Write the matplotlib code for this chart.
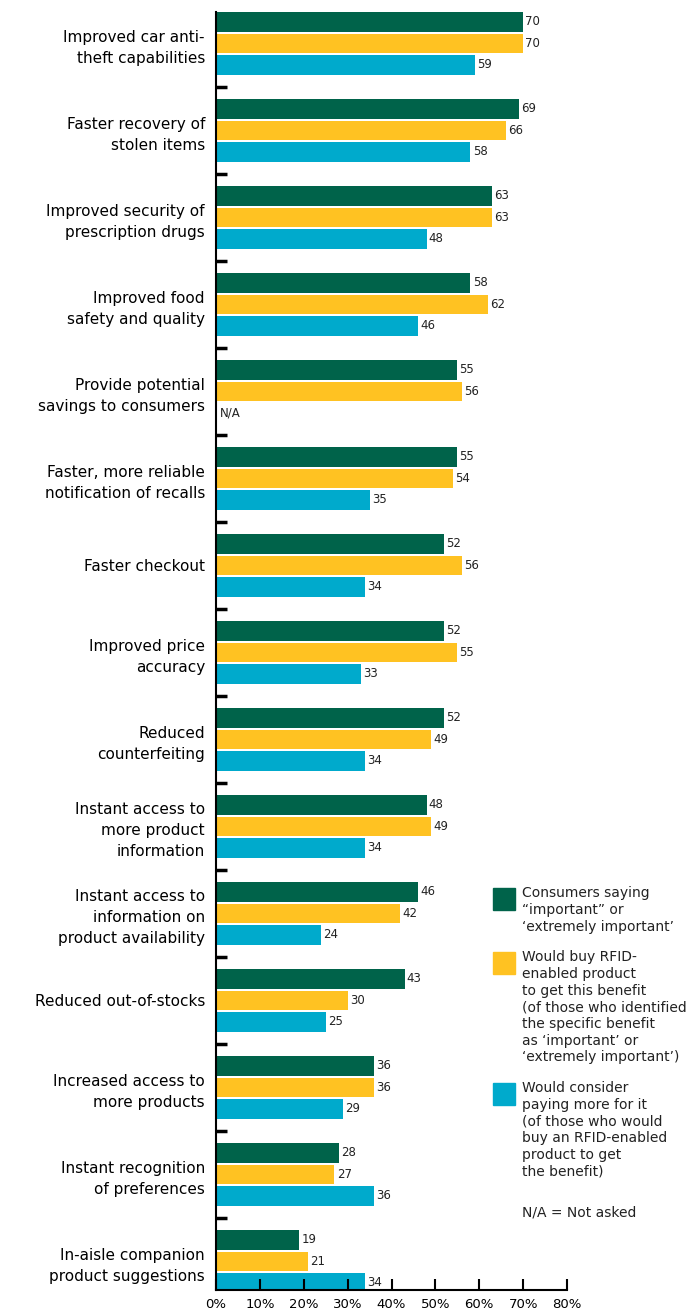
import matplotlib
matplotlib.use("Agg")
import matplotlib.pyplot as plt
import numpy as np

plt.rcParams["font.family"] = ["DejaVu Sans"]

categories = [
    "Improved car anti-\ntheft capabilities",
    "Faster recovery of\nstolen items",
    "Improved security of\nprescription drugs",
    "Improved food\nsafety and quality",
    "Provide potential\nsavings to consumers",
    "Faster, more reliable\nnotification of recalls",
    "Faster checkout",
    "Improved price\naccuracy",
    "Reduced\ncounterfeiting",
    "Instant access to\nmore product\ninformation",
    "Instant access to\ninformation on\nproduct availability",
    "Reduced out-of-stocks",
    "Increased access to\nmore products",
    "Instant recognition\nof preferences",
    "In-aisle companion\nproduct suggestions",
]
important = [70, 69, 63, 58, 55, 55, 52, 52, 52, 48, 46, 43, 36, 28, 19]
would_buy = [70, 66, 63, 62, 56, 54, 56, 55, 49, 49, 42, 30, 36, 27, 21]
pay_more = [59, 58, 48, 46, np.nan, 35, 34, 33, 34, 34, 24, 25, 29, 36, 34]

series_labels = [
    "Consumers saying\n\u201cimportant\u201d or\n\u2018extremely important\u2019",
    "Would buy RFID-\nenabled product\nto get this benefit\n(of those who identified\n"
    "the specific benefit\nas \u2018important\u2019 or\n\u2018extremely important\u2019)",
    "Would consider\npaying more for it\n(of those who would\nbuy an RFID-enabled\n"
    "product to get\nthe benefit)",
]
colors = ["#00634A", "#FFC222", "#00AACC"]
x_ticks = [0, 10, 20, 30, 40, 50, 60, 70, 80]

fig = plt.figure(figsize=(6.87, 13.13), dpi=100)
ax = fig.add_axes([216 / 687, 1 - 1290 / 1313, (567 - 216) / 687, (1290 - 12) / 1313])

n = len(categories)
centers = np.arange(n) + 0.5
offsets = [-0.247, 0.0, 0.247]
bar_h = 0.225

for vals, color, off in zip([important, would_buy, pay_more], colors, offsets):
    vals = np.array(vals, dtype=float)
    ys = centers + off
    mask = ~np.isnan(vals)
    ax.barh(ys[mask], vals[mask], height=bar_h, color=color, edgecolor="none")
    for y, v in zip(ys, vals):
        if np.isnan(v):
            ax.text(0.8, y, "N/A", va="center", ha="left", fontsize=8.5, color="#222222")
        else:
            ax.text(v + 0.5, y, f"{int(v)}", va="center", ha="left", fontsize=8.5,
                    color="#222222")

ax.set_xlim(0, 80)
ax.set_ylim(n - 0.17, 0.14)

ax.set_xticks(x_ticks)
ax.set_xticklabels([f"{t}%" for t in x_ticks], fontsize=9.5)
ax.tick_params(axis="x", direction="in", length=8, width=1.5, pad=6)

ax.set_yticks(np.arange(1, n))
ax.set_yticklabels([])
ax.tick_params(axis="y", which="major", direction="in", length=8, width=2.5)
ax.set_yticks(centers, minor=True)
ax.set_yticklabels(categories, minor=True, fontsize=11, linespacing=1.5)
ax.tick_params(axis="y", which="minor", length=0, pad=8)

for s in ["top", "right"]:
    ax.spines[s].set_visible(False)
ax.spines["left"].set_linewidth(1.5)
ax.spines["bottom"].set_linewidth(1.5)

# legend drawn by hand at the right
sq_w, sq_h = 22 / 687, 22 / 1313
legend_y = [888, 952, 1083]
for c, lab, ytop in zip(colors, series_labels, legend_y):
    fig.patches.append(plt.Rectangle((493 / 687, 1 - (ytop + 22) / 1313), sq_w, sq_h,
                                     transform=fig.transFigure, color=c))
    fig.text(522 / 687, 1 - (ytop - 2) / 1313, lab, fontsize=10, va="top", ha="left",
             linespacing=1.25, color="#222222")
fig.text(522 / 687, 1 - 1212 / 1313, "N/A = Not asked", fontsize=10, va="center",
         ha="left", color="#222222")

fig.savefig("out.png", dpi=100)
